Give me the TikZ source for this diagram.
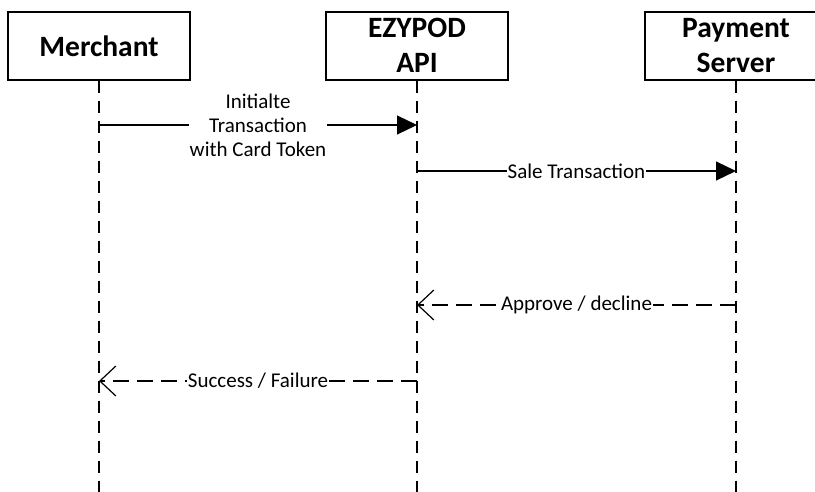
\documentclass[tikz,border=0pt]{standalone}
\usepackage{fontspec}
\setmainfont{Carlito}
\usetikzlibrary{arrows.meta}
\begin{document}
\begin{tikzpicture}[x=1pt,y=-1pt,
  actor/.style={draw,line width=1.2pt,minimum width=182pt,minimum height=68pt,inner sep=0pt},
  atext/.style={anchor=base,inner sep=0pt,font=\fontsize{29.5}{35}\selectfont\bfseries},
  life/.style={line width=1.2pt,dash pattern=on 12pt off 8pt},
  msg/.style={line width=1.2pt},
  lbl/.style={fill=white,font=\fontsize{21}{24}\selectfont,align=center,inner sep=0.5pt},
  sync/.style={-{Triangle[length=20pt,width=19pt]}},
  ret/.style={dash pattern=on 16pt off 8pt,-{Straight Barb[length=16pt,width=30pt,line width=1.2pt]}}]
\useasboundingbox (0,0) rectangle (815,492);
\node[actor] (m) at (99,46) {};
\node[actor] (e) at (417,46) {};
\node[actor] (p) at (736,46) {};
\node[atext] (mt) at (99,57) {Merchant};
\node[atext] (et1) at (417,38) {EZYPOD};
\node[atext] (et2) at (417,73) {API};
\node[atext] (pt1) at (736,38) {Payment};
\node[atext] (pt2) at (736,73) {Server};
\coordinate (mb) at (99,492);
\coordinate (eb) at (417,492);
\coordinate (pb) at (736,492);
\draw[life] (m.south) -- (mb);
\draw[life] (e.south) -- (eb);
\draw[life] (p.south) -- (pb);
% messages
\coordinate (m1) at (99,125); \coordinate (e1) at (417,125);
\coordinate (e2) at (417,171); \coordinate (p2) at (736,171);
\coordinate (p3) at (736,305); \coordinate (e3) at (417,305);
\coordinate (e4) at (417,381); \coordinate (m4) at (99,381);
\draw[msg,sync] (m1) -- node[lbl,pos=0.5] {Initialte\\Transaction\\with Card Token} (e1);
\draw[msg,sync] (e2) -- node[lbl,pos=0.5] {Sale Transaction} (p2);
\draw[msg,ret] (p3) -- node[lbl,pos=0.5] {Approve / decline} (e3);
\draw[msg,ret] (e4) -- node[lbl,pos=0.5] {Success / Failure} (m4);
\end{tikzpicture}
\end{document}
